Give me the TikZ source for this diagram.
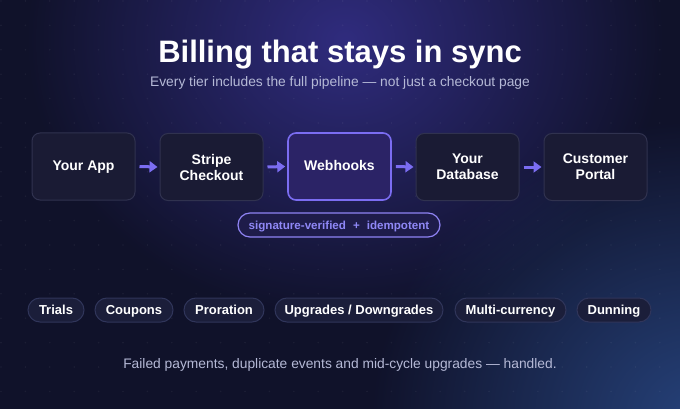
\documentclass[tikz,border=0pt]{standalone}
\usepackage{fontspec}
\setmainfont{Liberation Sans}
\usetikzlibrary{fadings,arrows.meta}
\definecolor{bgbase}{HTML}{10122A}
\definecolor{glowA}{HTML}{302C7E}
\definecolor{glowB}{HTML}{26427A}
\definecolor{boxfill}{HTML}{1A1B34}
\definecolor{boxline}{HTML}{30324F}
\definecolor{hotfill}{HTML}{2B2366}
\definecolor{accent}{HTML}{7B6DF2}
\definecolor{pilltext}{HTML}{8F88F6}
\definecolor{pillfill}{HTML}{1E1C4A}
\definecolor{chipfill}{HTML}{1B1E3A}
\definecolor{chipline}{HTML}{30355A}
\definecolor{subtext}{HTML}{B5B9D6}
\tikzfading[name=glowfade, inner color=transparent!0, outer color=transparent!100]
\tikzset{
  stagebox/.style={draw=boxline, line width=1pt, fill=boxfill, rounded corners=8pt,
    minimum width=103pt, minimum height=67pt, text=white, align=center,
    font=\bfseries\fontsize{14}{16}\selectfont, inner sep=0pt},
  hotbox/.style={stagebox, draw=accent, line width=1.6pt, fill=hotfill},
  flow/.style={draw=accent, line width=3pt, -{Triangle[length=8pt,width=11pt]}},
  chip/.style={draw=chipline, line width=1pt, fill=chipfill, rounded corners=12pt,
    minimum height=24pt, text=white, font=\bfseries\fontsize{13}{15}\selectfont, inner sep=0pt,
    text height=10.6pt, text depth=1.4pt},
  pill/.style={draw=accent!85, line width=1.2pt, fill=pillfill, rounded corners=12pt,
    minimum height=24pt, minimum width=202pt, text=pilltext,
    font=\bfseries\fontsize{11.6}{14}\selectfont, inner sep=0pt,
    text height=9.4pt, text depth=1.4pt},
}
\begin{document}
\begin{tikzpicture}[x=1pt,y=-1pt]
\useasboundingbox (0,0) rectangle (680,409);
\begin{scope}
\clip (0,0) rectangle (680,409);
\fill[bgbase] (0,0) rectangle (680,409);
\fill[glowA, path fading=glowfade] (345,40) ellipse (320 and 280);
\fill[glowB, path fading=glowfade] (700,420) ellipse (330 and 300);
\foreach \i in {0,...,28}{\foreach \j in {0,...,17}{
  \fill[white, opacity=0.05] (\i*24.4+1,\j*24.4+1) circle (0.9);}}
\end{scope}
% title
\node[text=white, font=\bfseries\fontsize{31}{34}\selectfont, text height=22pt, text depth=6pt] (title) at (340,55) {Billing that stays in sync};
\node[text=subtext, font=\fontsize{13.8}{16}\selectfont, text height=10pt, text depth=3pt] (sub) at (340,83.5) {Every tier includes the full pipeline — not just a checkout page};
% pipeline
\node[stagebox, text height=11pt, text depth=2pt] (app) at (83.5,166.5) {Your App};
\node[stagebox] (stripe) at (211.5,167) {Stripe\\Checkout};
\node[hotbox, text height=11pt, text depth=2pt] (hooks) at (339.5,166.5) {Webhooks};
\node[stagebox] (db) at (467.5,167) {Your\\Database};
\node[stagebox] (portal) at (595.5,167) {Customer\\Portal};
\draw[flow] ([xshift=4pt]app.east) -- ([xshift=-2pt]stripe.west);
\draw[flow] ([xshift=4pt]stripe.east) -- ([xshift=-2pt]hooks.west);
\draw[flow] ([xshift=4pt]hooks.east) -- ([xshift=-2pt]db.west);
\draw[flow] ([xshift=4pt]db.east) -- ([xshift=-2pt]portal.west);
\node[pill] (sig) at (339,225) {signature-verified\hspace{7pt}+\hspace{7pt}idempotent};
% chips
\node[chip, minimum width=56pt] (trials) at (56,310) {Trials};
\node[chip, minimum width=78pt] (coupons) at (134,310) {Coupons};
\node[chip, minimum width=80pt] (proration) at (224,310) {Proration};
\node[chip, minimum width=168pt] (upgrades) at (359,310) {Upgrades / Downgrades};
\node[chip, minimum width=111pt] (multi) at (510.5,310) {Multi-currency};
\node[chip, minimum width=74pt] (dunning) at (614,310) {Dunning};
% footer
\node[text=subtext, font=\fontsize{13.8}{16}\selectfont, text height=10pt, text depth=3pt] (foot) at (340,364.5) {Failed payments, duplicate events and mid-cycle upgrades — handled.};
\end{tikzpicture}
\end{document}
